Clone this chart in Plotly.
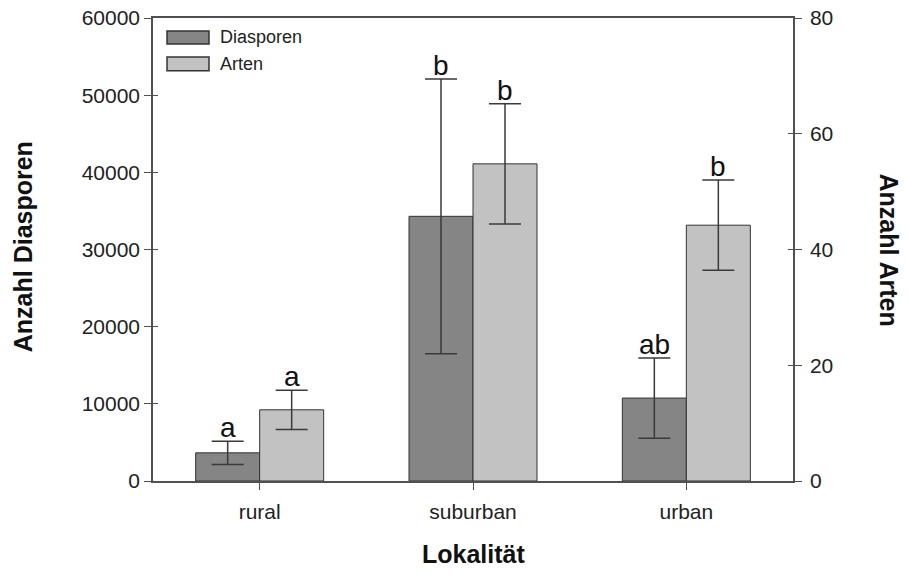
import plotly.graph_objects as go

categories = ["rural", "suburban", "urban"]
diasporen = [3650, 34300, 10750]
diasporen_err = [1500, 17800, 5200]
arten = [12.3, 54.8, 44.2]
arten_err = [3.4, 10.4, 7.8]
letters_d = ["a", "b", "ab"]
letters_a = ["a", "b", "b"]

FONT = "Liberation Sans, Arial, sans-serif"
LINE = "#505050"
C_D = "#858585"
C_A = "#c2c2c2"
TICK = 21

fig = go.Figure()
fig.add_trace(go.Bar(
    x=categories, y=diasporen, name="Diasporen", offsetgroup="1",
    marker=dict(color=C_D, line=dict(color="#333333", width=1)),
    error_y=dict(type="data", array=diasporen_err, color="#3a3a3a", thickness=1.5, width=16),
    yaxis="y", showlegend=False))
fig.add_trace(go.Bar(
    x=categories, y=arten, name="Arten", offsetgroup="2",
    marker=dict(color=C_A, line=dict(color="#333333", width=1)),
    error_y=dict(type="data", array=arten_err, color="#3a3a3a", thickness=1.5, width=16),
    yaxis="y2", showlegend=False))

ann = []
for i, c in enumerate(categories):
    ann.append(dict(x=i, xshift=-32, y=diasporen[i] + diasporen_err[i], yref="y",
                    text=letters_d[i], showarrow=False, yanchor="bottom", yshift=-4,
                    font=dict(size=28, family=FONT, color="#111")))
    ann.append(dict(x=i, xshift=32, y=arten[i] + arten_err[i], yref="y2",
                    text=letters_a[i], showarrow=False, yanchor="bottom", yshift=-4,
                    font=dict(size=28, family=FONT, color="#111")))
ann.append(dict(x=-0.203, xref="paper", xanchor="center", y=0.505, yref="paper",
                yanchor="middle", text="<b>Anzahl Diasporen</b>", textangle=-90,
                showarrow=False, font=dict(size=25, family=FONT, color="#111")))
ann.append(dict(x=1.15, xref="paper", xanchor="center", y=0.5, yref="paper",
                yanchor="middle", text="<b>Anzahl Arten</b>", textangle=90,
                showarrow=False, font=dict(size=25, family=FONT, color="#111")))
ann.append(dict(x=0.5, xref="paper", xanchor="center", y=-0.158, yref="paper",
                yanchor="middle", text="<b>Lokalität</b>", showarrow=False,
                font=dict(size=25, family=FONT, color="#111")))

# manual legend
shapes = []
leg = [("Diasporen", C_D, 0.944, 0.972), ("Arten", C_A, 0.886, 0.916)]
for name, col, y0, y1 in leg:
    shapes.append(dict(type="rect", xref="paper", yref="paper", x0=0.0219, x1=0.0875,
                       y0=y0, y1=y1, fillcolor=col, line=dict(color="#333333", width=1.5)))
    ann.append(dict(x=0.101, xref="paper", xanchor="left", y=(y0 + y1) / 2, yref="paper",
                    yanchor="middle", text=name, showarrow=False,
                    font=dict(size=18, family=FONT, color="#222")))

fig.update_layout(
    width=908, height=574,
    margin=dict(l=153, r=115, t=18, b=93, autoexpand=False),
    paper_bgcolor="white", plot_bgcolor="white",
    barmode="group", bargap=0.4, bargroupgap=0,
    font=dict(family=FONT, size=TICK, color="#222"),
    showlegend=False,
    xaxis=dict(range=[-0.5, 2.5], showline=True, linecolor=LINE, linewidth=1.5,
               mirror=True, ticks="outside", ticklen=7, tickcolor=LINE,
               showgrid=False, tickfont=dict(size=TICK), zeroline=False,
               ticklabelstandoff=4, automargin=False),
    yaxis=dict(range=[0, 60000], dtick=10000, tickformat="d", showline=True, linecolor=LINE,
               linewidth=1.5, ticks="outside", ticklen=7, tickcolor=LINE,
               showgrid=False, zeroline=False, tickfont=dict(size=TICK), automargin=False),
    yaxis2=dict(range=[0, 80], dtick=20, overlaying="y", side="right",
                showline=True, linecolor=LINE, linewidth=1.5, ticks="outside",
                ticklen=7, tickcolor=LINE, showgrid=False, zeroline=False,
                tickfont=dict(size=TICK), ticklabelstandoff=4, automargin=False),
    yaxis3=dict(range=[0, 60000], dtick=10000, overlaying="y", side="left",
                ticks="inside", ticklen=5, tickcolor=LINE, showticklabels=False,
                showgrid=False, zeroline=False, showline=False, automargin=False),
    yaxis4=dict(range=[0, 80], dtick=20, overlaying="y", side="right",
                ticks="inside", ticklen=5, tickcolor=LINE, showticklabels=False,
                showgrid=False, zeroline=False, showline=False, automargin=False),
    annotations=ann,
    shapes=shapes,
)
fig.add_trace(go.Scatter(x=[categories[0]], y=[0], yaxis="y3", mode="markers",
                         marker=dict(opacity=0), showlegend=False, hoverinfo="skip"))
fig.add_trace(go.Scatter(x=[categories[0]], y=[0], yaxis="y4", mode="markers",
                         marker=dict(opacity=0), showlegend=False, hoverinfo="skip"))

fig.write_html("out.html", config={"displayModeBar": False},
               post_script="document.body.style.margin='0';document.body.style.padding='0';")
